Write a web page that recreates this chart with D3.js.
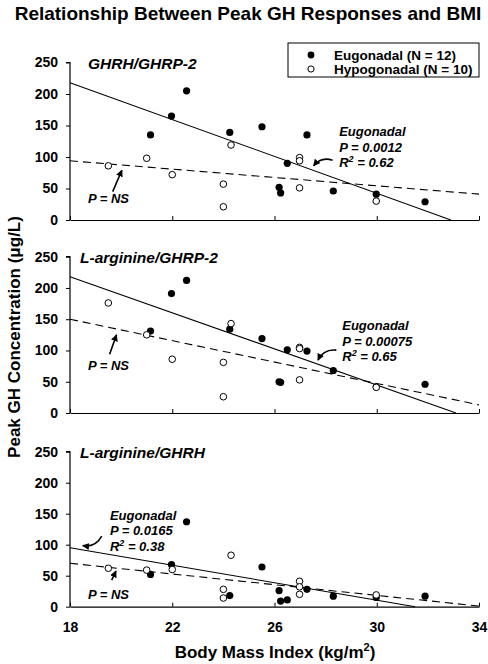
<!DOCTYPE html>
<html><head><meta charset="utf-8">
<script src="https://cdn.jsdelivr.net/npm/d3@7"></script>
<style>
html,body{margin:0;padding:0;background:#fff;}
svg{display:block;font-family:"Liberation Sans",Arial,Helvetica,sans-serif;}
</style></head>
<body><svg id="chart" width="488" height="664"></svg>
<script>
// ---------- DATA ----------
const panelNames = ["GHRH/GHRP-2", "L-arginine/GHRP-2", "L-arginine/GHRH"];
const seriesNames = ["Eugonadal (N = 12)", "Hypogonadal (N = 10)"];
const xTicks = [18, 22, 26, 30, 34];
const yTicks = [0, 50, 100, 150, 200, 250];

const bmiEu   = [21.15, 21.97, 22.56, 24.25, 25.51, 26.18, 26.24, 26.5, 27.27, 28.3, 29.98, 31.89];
const bmiHypo = [19.5, 21.0, 22.0, 24.3, 24.0, 24.0, 26.98, 26.98, 26.98, 29.98];

const ghEuGhrhGhrp   = [135, 165, 205, 139, 148, 52, 43, 90, 135, 46, 41, 29];
const ghHypoGhrhGhrp = [86, 98, 72, 119, 57, 21, 99, 94, 51, 30];
const ghEuArgGhrp    = [131, 191, 212, 134, 119, 50, 49, 101, 99, 68, 42, 46];
const ghHypoArgGhrp  = [176, 125, 86, 143, 81, 26, 105, 103, 53, 41];
const ghEuArgGhrh    = [52, 68, 137, 18, 64, 26, 9, 11, 28, 17, 15, 17];
const ghHypoArgGhrh  = [62, 59, 60, 83, 28, 14, 41, 32, 20, 19];

// regression line endpoints [bmi, gh]
const fitEu   = [[[18, 218], [32.9, 0]], [[18, 218], [33.1, 0]], [[18, 95], [31.5, 0]]];
const fitHypo = [[[18, 94], [34, 41]], [[18, 150], [34, 13]], [[18, 70], [34, 1]]];

const statLines = [
  ["Eugonadal", "P = 0.0012", "R² = 0.62"],
  ["Eugonadal", "P = 0.00075", "R² = 0.65"],
  ["Eugonadal", "P = 0.0165", "R² = 0.38"]
];
const nsLabel = "P = NS";

// ---------- LAYOUT ----------
const euVals = [ghEuGhrhGhrp, ghEuArgGhrp, ghEuArgGhrh];
const hypoVals = [ghHypoGhrhGhrp, ghHypoArgGhrp, ghHypoArgGhrh];
const panelBox = [[62.5, 220], [256.7, 413], [451.7, 606.7]];
// annotation placement (data coords)
const statPos = [[28.53, 133], [28.65, 132.6], [19.56, 140]];
const statArrow = [[[28.27, 95], [27.53, 86], 1], [[28.42, 100.6], [27.7, 84.6], 1], [[19.24, 114], [18.5, 98.5], -1]];
const nsPos = [[18.7, 27], [18.7, 68], [18.7, 12.4]];
const nsArrow = [[[19.67, 45], [20.03, 79]], [[19.55, 94], [19.82, 125]], [[19.63, 43], [19.8, 57.6]]];
const panelLabelX = [88, 80, 80];

const svg = d3.select("#chart");
const x = d3.scaleLinear().domain([18, 34]).range([70, 479]);

svg.append("defs").append("marker")
  .attr("id", "ah").attr("viewBox", "0 0 10 10").attr("refX", 9).attr("refY", 5)
  .attr("markerWidth", 7).attr("markerHeight", 7).attr("orient", "auto-start-reverse")
  .attr("markerUnits", "userSpaceOnUse")
  .append("path").attr("d", "M0,0 L10,5 L0,10 z").attr("fill", "#000");

svg.append("text").attr("x", 248).attr("y", 20).attr("text-anchor", "middle")
  .attr("font-size", 19).attr("font-weight", "bold").text("Relationship Between Peak GH Responses and BMI");

panelNames.forEach((name, i) => {
  const [top, bot] = panelBox[i];
  const y = d3.scaleLinear().domain([0, 250]).range([bot, top]);
  const g = svg.append("g");

  // y axis
  const ya = g.append("g").attr("transform", `translate(${x(18)},0)`)
    .call(d3.axisLeft(y).tickValues(yTicks).tickSize(4).tickPadding(8));
  ya.select(".domain").attr("stroke-width", 1.2).attr("d", `M-4,${y(250)}H0V${y(0)}`);
  ya.selectAll("text").attr("font-size", 14).attr("font-weight", "bold").attr("font-family", null);

  // x axis (ticks inward)
  const xa = g.append("g").attr("transform", `translate(0,${y(0)})`)
    .call(d3.axisBottom(x).tickValues(xTicks).tickSizeInner(-4).tickSizeOuter(0).tickPadding(15)
      .tickFormat(i === 2 ? d3.format("d") : () => ""));
  xa.select(".domain").attr("stroke-width", 1.2);
  xa.selectAll("text").attr("font-size", 14).attr("font-weight", "bold").attr("font-family", null);

  // fit lines
  const line = d3.line().x(d => x(d[0])).y(d => y(d[1]));
  g.append("path").attr("d", line(fitEu[i])).attr("stroke", "#000").attr("stroke-width", 1.1).attr("fill", "none");
  g.append("path").attr("d", line(fitHypo[i])).attr("stroke", "#000").attr("stroke-width", 1.1)
    .attr("stroke-dasharray", "8,5").attr("fill", "none");

  // points
  g.selectAll(".eu").data(bmiEu.map((b, k) => [b, euVals[i][k]])).join("circle")
    .attr("cx", d => x(d[0])).attr("cy", d => y(d[1])).attr("r", 3.6).attr("fill", "#000");
  g.selectAll(".hy").data(bmiHypo.map((b, k) => [b, hypoVals[i][k]])).join("circle")
    .attr("cx", d => x(d[0])).attr("cy", d => y(d[1])).attr("r", 3.3)
    .attr("fill", "#fff").attr("stroke", "#000").attr("stroke-width", 1);

  // panel label
  g.append("text").attr("x", panelLabelX[i]).attr("y", y(250) + 6)
    .attr("font-size", 15.5).attr("font-weight", "bold").attr("font-style", "italic").text(name);

  // stats annotation
  const st = g.append("text").attr("x", x(statPos[i][0])).attr("y", y(statPos[i][1]))
    .attr("font-size", 13).attr("font-weight", "bold").attr("font-style", "italic");
  statLines[i].forEach((t, k) => {
    const ts = st.append("tspan").attr("x", x(statPos[i][0])).attr("dy", k ? 15.5 : 0);
    if (t.startsWith("R²")) {
      ts.text("R");
      ts.append("tspan").attr("font-size", 9).attr("dy", -5).text("2");
      st.append("tspan").attr("dy", 5).text(" = " + t.split("= ")[1]);
    } else ts.text(t);
  });
  const [a0, a1, bend] = statArrow[i];
  const p0 = [x(a0[0]), y(a0[1])], p1 = [x(a1[0]), y(a1[1])];
  const mx = (p0[0] + p1[0]) / 2, my = (p0[1] + p1[1]) / 2;
  const dx = p1[0] - p0[0], dy = p1[1] - p0[1];
  const c = [mx - dy * 0.35 * bend, my + dx * 0.35 * bend];
  g.append("path").attr("d", `M${p0[0]},${p0[1]} Q${c[0]},${c[1]} ${p1[0]},${p1[1]}`)
    .attr("stroke", "#000").attr("stroke-width", 1.6).attr("fill", "none").attr("marker-end", "url(#ah)");

  // NS annotation
  g.append("text").attr("x", x(nsPos[i][0])).attr("y", y(nsPos[i][1]))
    .attr("font-size", 13).attr("font-weight", "bold").attr("font-style", "italic").text(nsLabel);
  const [n0, n1] = nsArrow[i];
  g.append("path").attr("d", `M${x(n0[0])},${y(n0[1])} L${x(n1[0])},${y(n1[1])}`)
    .attr("stroke", "#000").attr("stroke-width", 1.6).attr("fill", "none").attr("marker-end", "url(#ah)");
});

// legend
const lg = svg.append("g");
lg.append("rect").attr("x", 288).attr("y", 43).attr("width", 191).attr("height", 34)
  .attr("fill", "#fff").attr("stroke", "#000").attr("stroke-width", 1);
seriesNames.forEach((s, k) => {
  const cy = 55 + k * 14;
  const c = lg.append("circle").attr("cx", 311).attr("cy", cy).attr("r", k ? 3.1 : 3.4);
  if (k) c.attr("fill", "#fff").attr("stroke", "#000"); else c.attr("fill", "#000");
  lg.append("text").attr("x", 334).attr("y", cy + 5).attr("font-size", 13.5).attr("font-weight", "bold").text(s);
});

// axis titles
svg.append("text").attr("transform", "translate(20,337) rotate(-90)").attr("text-anchor", "middle")
  .attr("font-size", 17).attr("font-weight", "bold").text("Peak GH Concentration (μg/L)");
const xt = svg.append("text").attr("x", 275).attr("y", 658).attr("text-anchor", "middle")
  .attr("font-size", 17).attr("font-weight", "bold");
xt.append("tspan").text("Body Mass Index (kg/m");
xt.append("tspan").attr("font-size", 11).attr("dy", -7).text("2");
xt.append("tspan").attr("dy", 7).text(")");
</script></body></html>
